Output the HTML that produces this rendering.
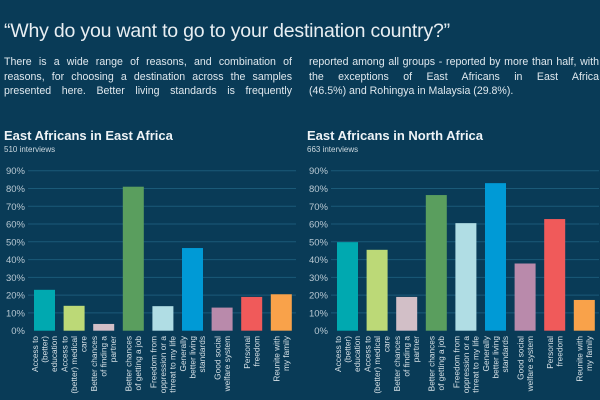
<!DOCTYPE html>
<html><head><meta charset="utf-8"><style>
body{margin:0;width:600px;height:400px;overflow:hidden;background:#093b57;font-family:"Liberation Sans",sans-serif;color:#e6eef2}
#title{position:absolute;left:4px;top:20px;font-size:19.5px;color:#e8eef2;white-space:nowrap;letter-spacing:-0.2px}
.col{position:absolute;top:55px;width:288px;font-size:10.6px;line-height:14.7px;text-align:justify;text-align-last:justify;color:#dfe8ee}
.col.last{text-align-last:left}
svg{position:absolute;left:0;top:0}
</style></head><body>
<div id="title">“Why do you want to go to your destination country?”</div>
<div class="col" style="left:4px">There is a wide range of reasons, and combination of reasons, for choosing a destination across the samples presented here. Better living standards is frequently</div>
<div class="col last" style="left:309px;width:290px"><span style="display:block;text-align-last:justify">reported among all groups - reported by more than half, with the exceptions of East Africans in East Africa</span>(46.5%) and Rohingya in Malaysia (29.8%).</div>
<svg id="svg" width="600" height="400"></svg>
<script>
const categories=[["Access to","(better)","education"],["Access to","(better) medical","care"],["Better chances","of finding a","partner"],["Better chances","of getting a job"],["Freedom from","oppression or a","threat to my life"],["Generally","better living","standards"],["Good social","welfare system"],["Personal","freedom"],["Reunite with","my family"]];
const colors=["#00a9b0","#bcd977","#d2bfc7","#5a9e5e","#b0dde4","#009ad6","#b98aab","#f05a5a","#f9a24a"];
const eastValues=[23,14,3.8,81,13.8,46.5,13,19,20.5];
const northValues=[49.8,45.5,19,76.3,60.5,83,37.8,62.8,17.3];
const tickValues=[0,10,20,30,40,50,60,70,80,90];
const tickLabels=["0%","10%","20%","30%","40%","50%","60%","70%","80%","90%"];
const svg=document.getElementById('svg');
const NS="http://www.w3.org/2000/svg";
function mk(t,a,p){const e=document.createElementNS(NS,t);for(const k in a)e.setAttribute(k,a[k]);(p||svg).appendChild(e);return e;}
const y0=330.7,yPer=(330.7-170.7)/90;
function yScale(v){return y0-v*yPer;}
function chart(ox,title,sub,values,name){
  const g=mk('g',{});
  
  
  const t=mk('text',{x:ox+4,y:140,'font-size':13,'font-weight':'bold',fill:'#eef3f6'},g);t.textContent=title;
  
  const s=mk('text',{x:ox+4,y:152,'font-size':8,fill:'#cdd9e0'},g);s.textContent=sub;
  
  tickValues.forEach((v,i)=>{
    const y=yScale(v);
    if(v>0){const l=mk('line',{x1:ox+28,x2:ox+296,y1:y,y2:y,stroke:'#1b5a78','stroke-width':1},g);
    }
    const tx=mk('text',{x:ox+25,y:y+3.5,'font-size':9.5,fill:'#b9c9d3','text-anchor':'end'},g);tx.textContent=tickLabels[i];
    
  });
  const step=29.6,c0=ox+44.5,bw=21;
  values.forEach((v,i)=>{
    const cx=c0+i*step;
    const r=mk('rect',{x:cx-bw/2,y:yScale(v),width:bw,height:y0-yScale(v),fill:colors[i]},g);
    
    const lines=categories[i];
    const lt=mk('text',{transform:`translate(${cx},${336}) rotate(-90)`,'font-size':8.3,fill:'#d5e0e6','text-anchor':'end'},g);
    
    const n=lines.length;
    lines.forEach((ln,j)=>{const ts=mk('tspan',{x:0,y:(j-(n-1)/2)*9.5+3},lt);ts.textContent=ln;});
  });
}
chart(0,"East Africans in East Africa","510 interviews",eastValues,"chart-east-africa");
chart(303,"East Africans in North Africa","663 interviews",northValues,"chart-north-africa");
</script>
</body></html>
